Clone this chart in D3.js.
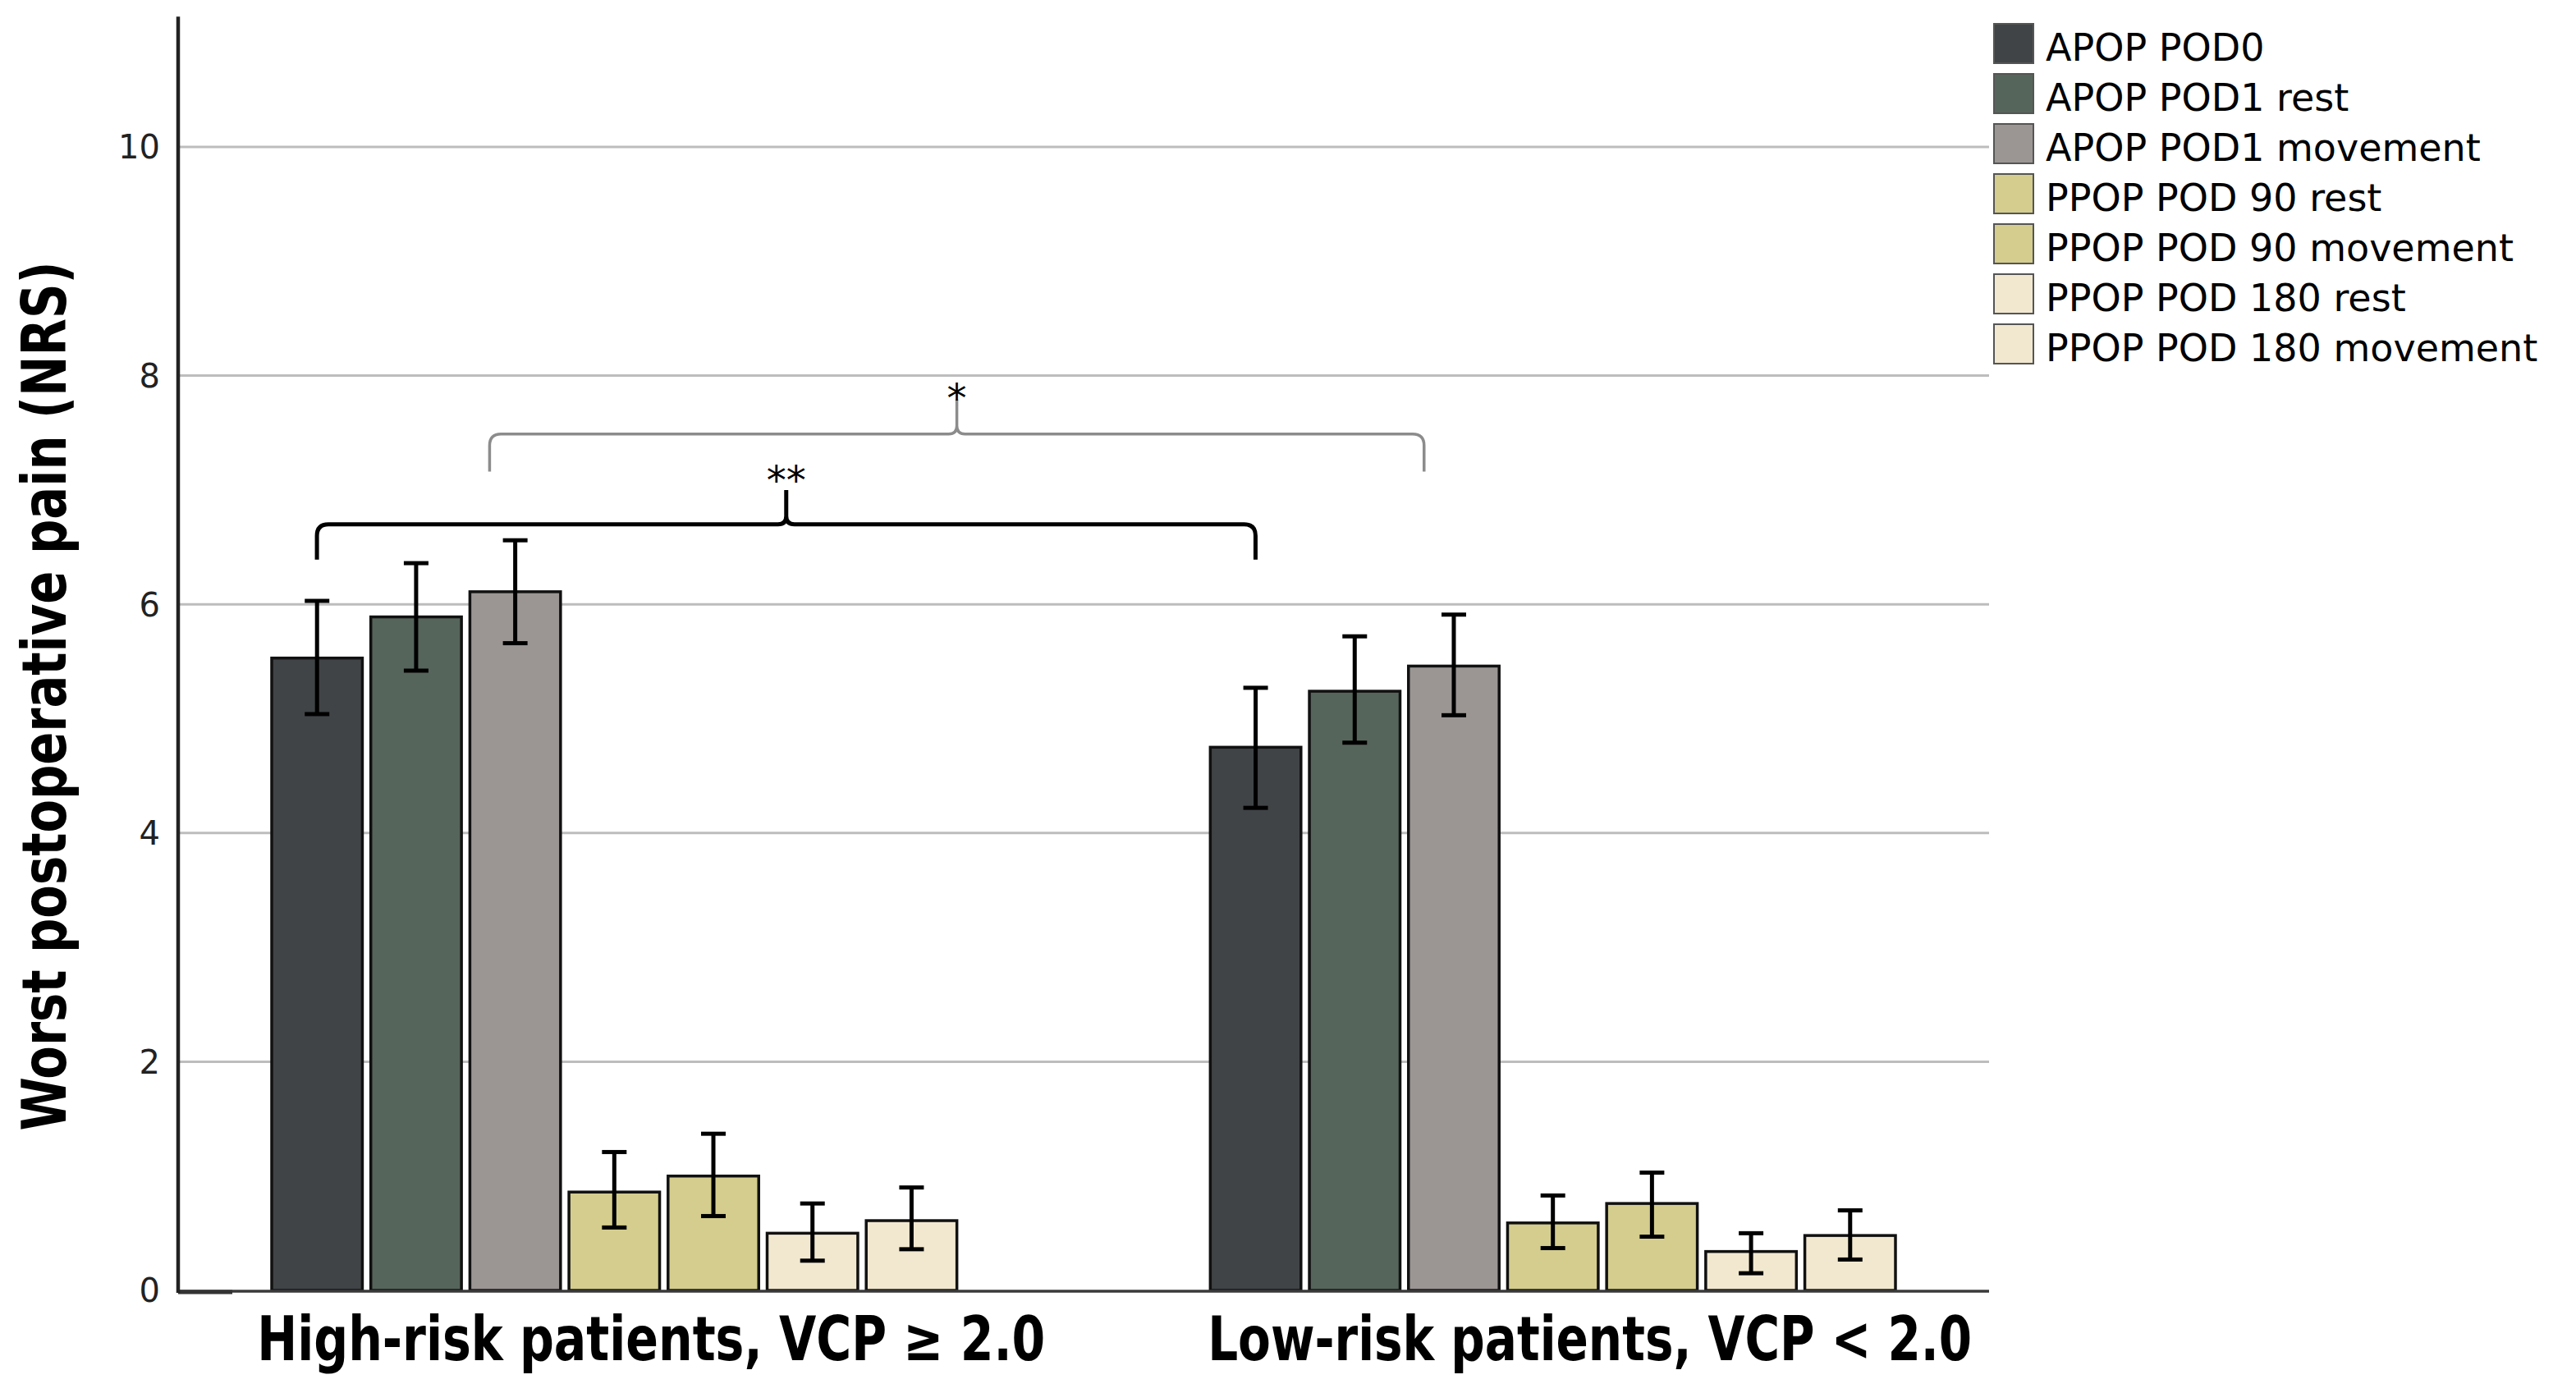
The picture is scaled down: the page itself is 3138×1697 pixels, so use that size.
<!DOCTYPE html>
<html>
<head>
<meta charset="utf-8">
<script src="https://cdn.jsdelivr.net/npm/d3@7"></script>
<style>
  html, body { margin: 0; padding: 0; background: #ffffff; }
  svg { display: block; }
</style>
</head>
<body>
<svg id="chart" width="3138" height="1697"></svg>
<script>
// ---------------- data ----------------
const categories = ["High-risk patients, VCP \u2265 2.0", "Low-risk patients, VCP < 2.0"];
const seriesNames = ["APOP POD0", "APOP POD1 rest", "APOP POD1 movement",
  "PPOP POD 90 rest", "PPOP POD 90 movement", "PPOP POD 180 rest", "PPOP POD 180 movement"];
const seriesColors = ["#404446", "#56655b", "#9b9694", "#d4cd8d", "#d4cd8d", "#f2e8d0", "#f2e8d0"];

const highRiskMean  = [5.53, 5.89, 6.11, 0.86, 1.00, 0.50, 0.61];
const highRiskLower = [5.04, 5.42, 5.66, 0.55, 0.65, 0.26, 0.36];
const highRiskUpper = [6.03, 6.36, 6.56, 1.21, 1.37, 0.76, 0.90];

const lowRiskMean  = [4.75, 5.24, 5.46, 0.59, 0.76, 0.34, 0.48];
const lowRiskLower = [4.22, 4.79, 5.03, 0.37, 0.47, 0.15, 0.27];
const lowRiskUpper = [5.27, 5.72, 5.91, 0.83, 1.03, 0.50, 0.70];

const yTicks = [0, 2, 4, 6, 8, 10];
const yTitle = "Worst postoperative pain (NRS)";

// significance brackets: ends as fraction of group band, heights in data units
const brackets = [
  { label: "*",  from: 0.318, to: 0.312, line: 7.49, end: 7.16, peak: 7.79, text: 7.93, color: "#8c8c8c", width: 3.5 },
  { label: "**", from: 0.066, to: 0.066, line: 6.70, end: 6.39, peak: 7.00, text: 7.21, color: "#000000", width: 5 }
];

// ---------------- layout ----------------
const svg = d3.select("#chart");
const axisX = 217, plotRight = 2423;

const y = d3.scaleLinear().domain([0, 10]).range([1572, 179]);
const x0 = d3.scaleBand().domain(categories).range([axisX, plotRight])
  .paddingInner(0.27).paddingOuter(0.0997);
const x1 = d3.scaleBand().domain(seriesNames).range([0, x0.bandwidth()])
  .paddingInner(0.085).paddingOuter(0);
const color = d3.scaleOrdinal().domain(seriesNames).range(seriesColors);

const groups = [
  { cat: categories[0], mean: highRiskMean, lo: highRiskLower, hi: highRiskUpper },
  { cat: categories[1], mean: lowRiskMean,  lo: lowRiskLower,  hi: lowRiskUpper }
];
const barData = [];
groups.forEach(g => seriesNames.forEach((s, i) => {
  barData.push({ cat: g.cat, s, v: g.mean[i], lo: g.lo[i], hi: g.hi[i] });
}));

// gridlines
svg.append("g").selectAll("line").data(yTicks.filter(t => t > 0)).join("line")
  .attr("x1", axisX).attr("x2", plotRight)
  .attr("y1", d => y(d)).attr("y2", d => y(d))
  .attr("stroke", "#bdbdbd").attr("stroke-width", 3);

// y tick labels
svg.append("g").selectAll("text").data(yTicks).join("text")
  .attr("x", 195).attr("y", d => y(d))
  .attr("dy", "0.36em")
  .attr("text-anchor", "end")
  .attr("font-family", "DejaVu Sans, sans-serif")
  .attr("font-size", 40)
  .attr("fill", "#222")
  .text(d => d);

// bars
const bars = svg.append("g");
bars.selectAll("rect").data(barData).join("rect")
  .attr("x", d => x0(d.cat) + x1(d.s))
  .attr("width", x1.bandwidth())
  .attr("y", d => y(d.v))
  .attr("height", d => y(0) - y(d.v))
  .attr("fill", d => color(d.s))
  .attr("stroke", "#111")
  .attr("stroke-width", 3.5);

// error bars
const capW = 30;
const eb = svg.append("g").attr("stroke", "#000").attr("stroke-width", 5);
barData.forEach(d => {
  const cx = x0(d.cat) + x1(d.s) + x1.bandwidth() / 2;
  eb.append("line").attr("x1", cx).attr("x2", cx).attr("y1", y(d.lo)).attr("y2", y(d.hi));
  eb.append("line").attr("x1", cx - capW / 2).attr("x2", cx + capW / 2).attr("y1", y(d.hi)).attr("y2", y(d.hi));
  eb.append("line").attr("x1", cx - capW / 2).attr("x2", cx + capW / 2).attr("y1", y(d.lo)).attr("y2", y(d.lo));
});

// axes lines
svg.append("line").attr("x1", axisX).attr("x2", plotRight)
  .attr("y1", y(0) + 1).attr("y2", y(0) + 1)
  .attr("stroke", "#3a3a3a").attr("stroke-width", 3.5);
svg.append("line").attr("x1", axisX).attr("x2", axisX + 66)
  .attr("y1", y(0) + 2).attr("y2", y(0) + 2)
  .attr("stroke", "#333").attr("stroke-width", 5);
svg.append("path")
  .attr("d", `M${axisX},${y(11.14)} L${axisX},${y(0) + 3}`)
  .attr("fill", "none")
  .attr("stroke", "#222").attr("stroke-width", 4.5);

// brackets
function bracketPath(xl, xr, xp, yl, ye, yp) {
  const r = 14, r2 = 10;
  return `M${xl},${ye} L${xl},${yl + r} Q${xl},${yl} ${xl + r},${yl}` +
    ` L${xp - r2},${yl} Q${xp},${yl} ${xp},${yl - r2} L${xp},${yp}` +
    ` M${xp},${yl - r2} Q${xp},${yl} ${xp + r2},${yl} L${xr - r},${yl}` +
    ` Q${xr},${yl} ${xr},${yl + r} L${xr},${ye}`;
}
brackets.forEach(b => {
  const xl = x0(categories[0]) + b.from * x0.bandwidth();
  const xr = x0(categories[1]) + b.to * x0.bandwidth();
  const xp = (xl + xr) / 2;
  svg.append("path")
    .attr("d", bracketPath(xl, xr, xp, y(b.line), y(b.end), y(b.peak)))
    .attr("fill", "none").attr("stroke", b.color).attr("stroke-width", b.width)
    .attr("stroke-linejoin", "round");
  svg.append("text")
    .attr("x", xp).attr("y", y(b.text))
    .attr("dy", "0.72em")
    .attr("text-anchor", "middle")
    .attr("font-family", "DejaVu Sans, sans-serif")
    .attr("font-size", 48)
    .attr("fill", "#000")
    .text(b.label);
});

// x category labels
const catLabelWidth = [960, 931];
svg.append("g").selectAll("text").data(categories).join("text")
  .attr("x", d => x0(d) + x0.bandwidth() / 2 + 45)
  .attr("y", 1657)
  .attr("text-anchor", "middle")
  .attr("font-family", "DejaVu Sans Condensed, DejaVu Sans, sans-serif")
  .attr("font-weight", "bold")
  .attr("font-size", 74)
  .attr("textLength", (d, i) => catLabelWidth[i])
  .attr("lengthAdjust", "spacingAndGlyphs")
  .attr("fill", "#000")
  .text(d => d);

// y title
svg.append("text")
  .attr("transform", "translate(80,848) rotate(-90)")
  .attr("text-anchor", "middle")
  .attr("font-family", "DejaVu Sans Condensed, DejaVu Sans, sans-serif")
  .attr("font-weight", "bold")
  .attr("font-size", 74)
  .attr("textLength", 1059)
  .attr("lengthAdjust", "spacingAndGlyphs")
  .attr("fill", "#000")
  .text(yTitle);

// legend
const legend = svg.append("g").attr("transform", "translate(2429,29)");
const rowH = 61;
const lg = legend.selectAll("g").data(seriesNames).join("g")
  .attr("transform", (d, i) => `translate(0,${i * rowH})`);
lg.append("rect").attr("x", 0).attr("y", 0).attr("width", 48).attr("height", 48)
  .attr("fill", d => color(d)).attr("stroke", "#555").attr("stroke-width", 2);
lg.append("text").attr("x", 63).attr("y", 45)
  .attr("font-family", "DejaVu Sans, sans-serif")
  .attr("font-size", 46)
  .attr("fill", "#000")
  .text(d => d);
</script>
</body>
</html>
